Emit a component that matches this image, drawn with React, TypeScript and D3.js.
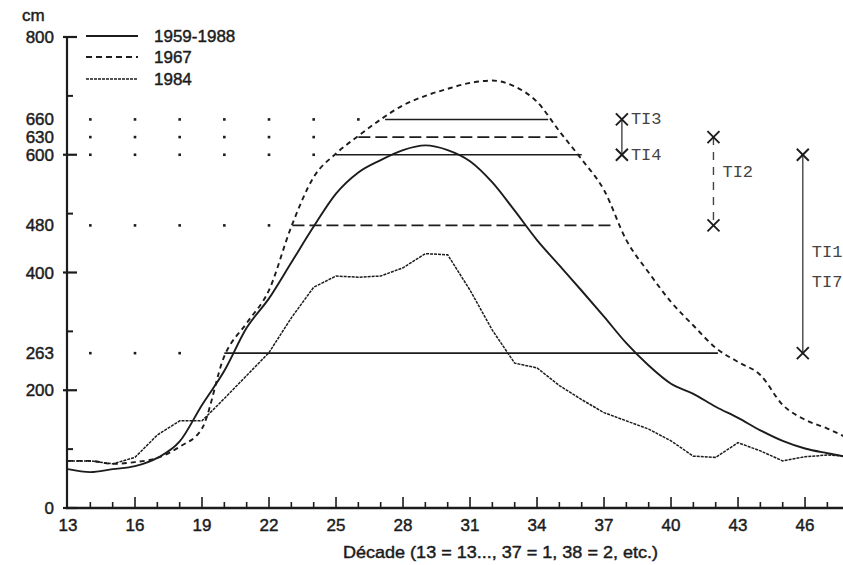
import React from 'react';
import * as d3 from 'd3';

const decades = [13,14,15,16,17,18,19,20,21,22,23,24,25,26,27,28,29,30,31,32,33,34,35,36,37,38,39,40,41,42,43,44,45,46,47,48];
const mean5988 = [66,61,66,71,85,113,175,233,306,356,417,478,534,570,591,608,616,608,589,553,505,455,412,369,325,280,242,211,194,172,153,132,114,101,93,86];
const year1967 = [80,80,75,78,85,104,135,258,314,370,478,562,602,632,660,684,700,712,722,726,716,690,640,592,540,455,400,350,310,272,248,226,175,150,135,117];
const year1984 = [80,80,75,86,124,148,148,186,225,264,323,375,394,392,394,408,432,430,370,302,246,238,208,184,162,148,134,114,88,86,111,97,80,87,90,88];

const seriesNames = ['1959-1988', '1967', '1984'];

const yTickLabels = [800, 660, 630, 600, 480, 400, 263, 200, 0];
const yMajorTicks = [0, 200, 400, 600, 800];
const yMinorTicks = [100, 300, 500, 700];
const xTickLabels = [13, 16, 19, 22, 25, 28, 31, 34, 37, 40, 43, 46];
const xMinorTicks = d3.range(14, 48);

const thresholdValues = [660, 630, 600, 480, 263];
const thresholdStart = [27.2, 26, 25, 23.05, 20];
const thresholdEnd = [34.5, 35, 36, 37.4, 42.1];
const thresholdDashed = [false, true, false, true, false];

const tiX = [37.8, 41.9, 45.9];
const tiTop = [660, 630, 600];
const tiBottom = [600, 480, 263];
const tiDashed = [false, true, false];
const tiLabels = ['TI3', 'TI4', 'TI2', 'TI1', 'TI7'];
const tiLabelX = [37.8, 37.8, 41.9, 45.9, 45.9];
const tiLabelY = [660, 600, 570, 435, 384];

const W = 843;
const H = 565;

const x = d3.scaleLinear().domain([13, 48]).range([68, 849.7]);
const y = d3.scaleLinear().domain([0, 800]).range([508, 37]);

const SANS = '"Liberation Sans", Arial, Helvetica, sans-serif';
const MONO = '"Liberation Mono", "DejaVu Sans Mono", monospace';
const INK = '#1c1c1c';

export default function App() {
  const smooth = d3.line<number>()
    .x((_, i) => x(decades[i]))
    .y((d) => y(d))
    .curve(d3.curveMonotoneX);
  const linear = d3.line<number>()
    .x((_, i) => x(decades[i]))
    .y((d) => y(d))
    .curve(d3.curveLinear);

  const dots: { cx: number; cy: number }[] = [];
  thresholdValues.forEach((v, i) => {
    for (let d = 14; d < thresholdStart[i] - 0.1; d += 2) {
      dots.push({ cx: x(d), cy: y(v) });
    }
  });

  const cross = (cx: number, cy: number, key: string) => (
    <g key={key} stroke={INK} strokeWidth={1.9}>
      <line x1={cx - 6} y1={cy - 6} x2={cx + 6} y2={cy + 6} />
      <line x1={cx - 6} y1={cy + 6} x2={cx + 6} y2={cy - 6} />
    </g>
  );

  const legendY = [36, 57, 79];
  const sansProps = { fontFamily: SANS, fontSize: 17, fill: INK, stroke: INK, strokeWidth: 0.45 };

  return (
    <svg width={W} height={H} style={{ position: 'absolute', left: 0, top: 0, background: '#fff' }}>
      <rect x={0} y={0} width={W} height={H} fill="#fff" />
      {/* y axis */}
      <text x={22} y={21} {...sansProps}>cm</text>
      <line x1={67} y1={y(800) - 1} x2={67} y2={y(0) + 1} stroke={INK} strokeWidth={2.2} />
      {yMajorTicks.map((t) => (
        <line key={'ym' + t} x1={63} x2={77} y1={y(t)} y2={y(t)} stroke={INK} strokeWidth={2.2} />
      ))}
      {yMinorTicks.map((t) => (
        <line key={'yn' + t} x1={67} x2={73} y1={y(t)} y2={y(t)} stroke={INK} strokeWidth={2} />
      ))}
      {yTickLabels.map((t) => (
        <text key={'yl' + t} x={54} y={y(t) + 6} textAnchor="end" {...sansProps}>{t}</text>
      ))}
      {/* x axis */}
      <line x1={66} x2={W} y1={y(0)} y2={y(0)} stroke={INK} strokeWidth={2.4} />
      {xMinorTicks.map((t) => (
        <line key={'xt' + t} x1={x(t)} x2={x(t)} y1={y(0)} y2={y(0) - ((t - 13) % 3 === 0 ? 11 : 6)} stroke={INK} strokeWidth={1.6} />
      ))}
      {xTickLabels.map((t) => (
        <text key={'xl' + t} x={x(t)} y={531} textAnchor="middle" {...sansProps}>{t}</text>
      ))}
      <text x={343} y={558} {...sansProps} textLength={315} lengthAdjust="spacingAndGlyphs">Décade (13 = 13..., 37 = 1, 38 = 2, etc.)</text>

      {/* dotted guide rows */}
      {dots.map((d, i) => (
        <rect key={'d' + i} x={d.cx - 1.3} y={d.cy - 1.3} width={2.6} height={2.6} fill={INK} />
      ))}
      {/* threshold lines */}
      {thresholdValues.map((v, i) => (
        <line key={'th' + v} x1={x(thresholdStart[i])} x2={x(thresholdEnd[i])} y1={y(v)} y2={y(v)}
          stroke={INK} strokeWidth={thresholdDashed[i] ? 1.8 : 1.6}
          strokeDasharray={thresholdDashed[i] ? '12 5' : undefined} />
      ))}

      {/* series */}
      <path d={smooth(year1967) || ''} fill="none" stroke={INK} strokeWidth={1.9} strokeDasharray="5 4" />
      <path d={smooth(mean5988) || ''} fill="none" stroke={INK} strokeWidth={1.9} />
      <path d={linear(year1984) || ''} fill="none" stroke={INK} strokeWidth={1.5} strokeDasharray="3 1" />

      {/* TI annotations */}
      {tiX.map((tx, i) => (
        <g key={'ti' + i}>
          <line x1={x(tx)} x2={x(tx)} y1={y(tiTop[i])} y2={y(tiBottom[i])} stroke="#444" strokeWidth={1.4}
            strokeDasharray={tiDashed[i] ? '8 7' : undefined} />
          {cross(x(tx), y(tiTop[i]), 'ct' + i)}
          {cross(x(tx), y(tiBottom[i]), 'cb' + i)}
        </g>
      ))}
      {tiLabels.map((l, i) => (
        <text key={'tl' + l} x={x(tiLabelX[i]) + 9} y={y(tiLabelY[i]) + 5} fontFamily={MONO} fontSize={17} fill="#444">{l}</text>
      ))}

      {/* legend */}
      {seriesNames.map((n, i) => (
        <g key={'lg' + n}>
          <line x1={86} x2={138} y1={legendY[i]} y2={legendY[i]} stroke={INK}
            strokeWidth={i === 2 ? 1.5 : 1.9}
            strokeDasharray={i === 1 ? '6 4' : i === 2 ? '3 1' : undefined} />
          <text x={154} y={legendY[i] + 6} {...sansProps}>{n}</text>
        </g>
      ))}
    </svg>
  );
}
